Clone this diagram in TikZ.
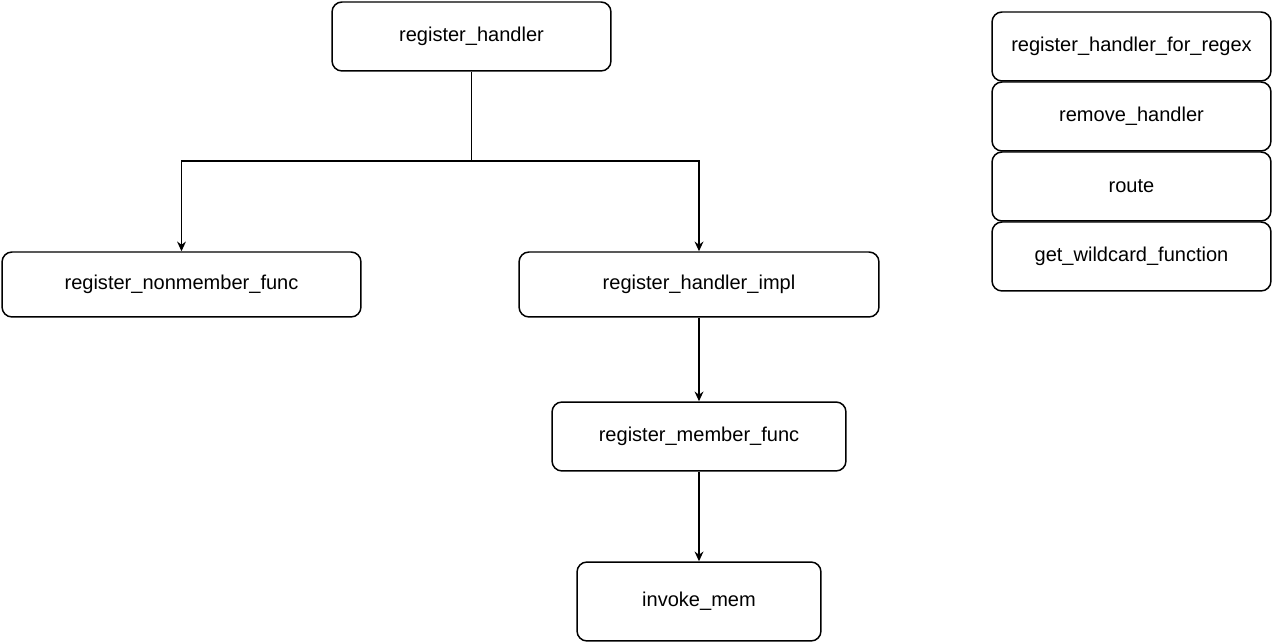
\documentclass[tikz,border=0pt]{standalone}
\usepackage{fontspec}
\setmainfont{Liberation Sans}
\usetikzlibrary{arrows.meta, positioning}

\tikzset{
    func/.style={draw, rounded corners=0.2cm, line width=0.85pt, align=center,
        font=\fontsize{11.4}{13.7}\selectfont},
    call/.style={-{Stealth[length=5.5pt, width=5pt]}, line width=0.85pt}
}

\begin{document}
\begin{tikzpicture}[x=0.02cm, y=-0.02cm]
    \useasboundingbox (0,0) rectangle (1274,644);

    % Call tree
    \node[func, minimum width=5.58cm, minimum height=1.38cm] (handler) at (471.5,36.5) {register\_handler};
    \node[func, minimum width=7.18cm, minimum height=1.3cm] (nonmember) at (181.5,284.5) {register\_nonmember\_func};
    \node[func, minimum width=7.2cm, minimum height=1.3cm] (impl) at (699,284.5) {register\_handler\_impl};
    \node[func, minimum width=5.88cm, minimum height=1.38cm] (member) at (699,436.5) {register\_member\_func};
    \node[func, minimum width=4.88cm, minimum height=1.58cm] (invoke) at (699,601.5) {invoke\_mem};

    % Other functions
    \foreach \y/\name/\txt in {46.5/regex/register\_handler\_for\_regex, 116.5/remove/remove\_handler,
                               186.5/route/route, 256.5/wildcard/get\_wildcard\_function} {
        \node[func, minimum width=5.58cm, minimum height=1.38cm] (\name) at (1131.5,\y) {\txt};
    }

    % Connectors
    \coordinate (split) at (471.5,161);
    \draw[line width=0.85pt] (handler.south) -- (split);
    \draw[call] (split) -| (nonmember.north);
    \draw[call] (split) -| (impl.north);
    \draw[call] (impl) -- (member);
    \draw[call] (member) -- (invoke);
\end{tikzpicture}
\end{document}
